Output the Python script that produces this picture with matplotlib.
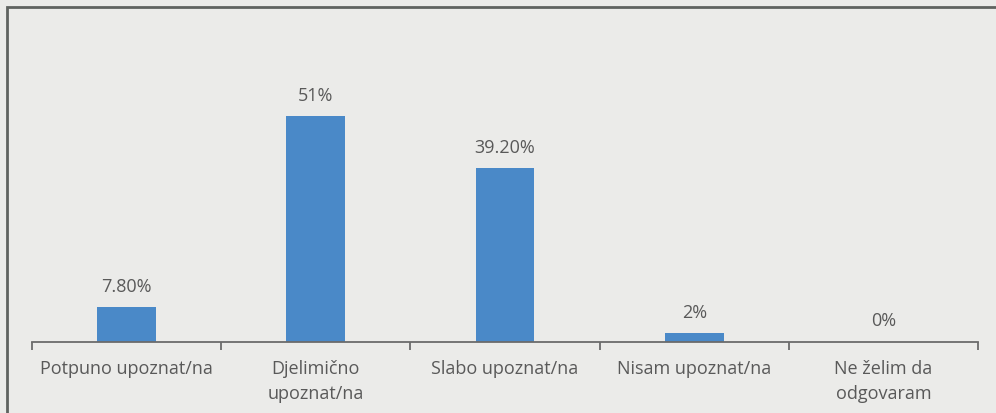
import matplotlib
matplotlib.use("Agg")
import matplotlib.pyplot as plt
from matplotlib.patches import Rectangle

categories = ["Potpuno upoznat/na", "Djelimično\nupoznat/na", "Slabo upoznat/na",
              "Nisam upoznat/na", "Ne želim da\nodgovaram"]
values = [7.8, 51, 39.2, 2, 0]
value_labels = ["7.80%", "51%", "39.20%", "2%", "0%"]

W, H = 996, 414
bg = "#ebebe9"
txt = "#595959"
plt.rcParams['font.family'] = ['Open Sans', 'DejaVu Sans']

fig = plt.figure(figsize=(W / 100, H / 100), dpi=100)
fig.patch.set_facecolor(bg)

# frame around the chart area (right and bottom sides fall outside the image)
fig.patches.append(Rectangle((7 / W, -0.1), 1.2, 1 - 7.5 / H + 0.1,
                             transform=fig.transFigure, fill=False,
                             edgecolor="#5f6360", linewidth=2))

x0, x1, y_axis = 32, 978, 343
ymax = 60
px_per = 226 / 51
top = y_axis - ymax * px_per
ax = fig.add_axes([x0 / W, 1 - y_axis / H, (x1 - x0) / W, (y_axis - top) / H])
ax.set_facecolor("none")

x = list(range(len(categories)))
ax.bar(x, values, width=0.31, color="#4a89c8")
for xi, v, lab in zip(x, values, value_labels):
    ax.annotate(lab, (xi, v), xytext=(0, 9), textcoords="offset points",
                ha="center", va="bottom", fontsize=13, color=txt)

ax.set_xlim(-0.5, len(categories) - 0.5)
ax.set_ylim(0, ymax)
ax.set_yticks([])
for s in ["top", "right", "left"]:
    ax.spines[s].set_visible(False)
ax.spines["bottom"].set_color("#6b6b6b")
ax.spines["bottom"].set_linewidth(1.3)

ax.set_xticks([i - 0.5 for i in range(len(categories) + 1)], minor=False)
ax.set_xticklabels([])
ax.tick_params(axis="x", length=6, width=1.3, color="#6b6b6b")
for xi, cat in zip(x, categories):
    ax.text(xi, -3.9, cat, ha="center", va="top", fontsize=13, color=txt,
            linespacing=1.5, transform=ax.transData)

fig.savefig("out.png", dpi=100, facecolor=bg)
